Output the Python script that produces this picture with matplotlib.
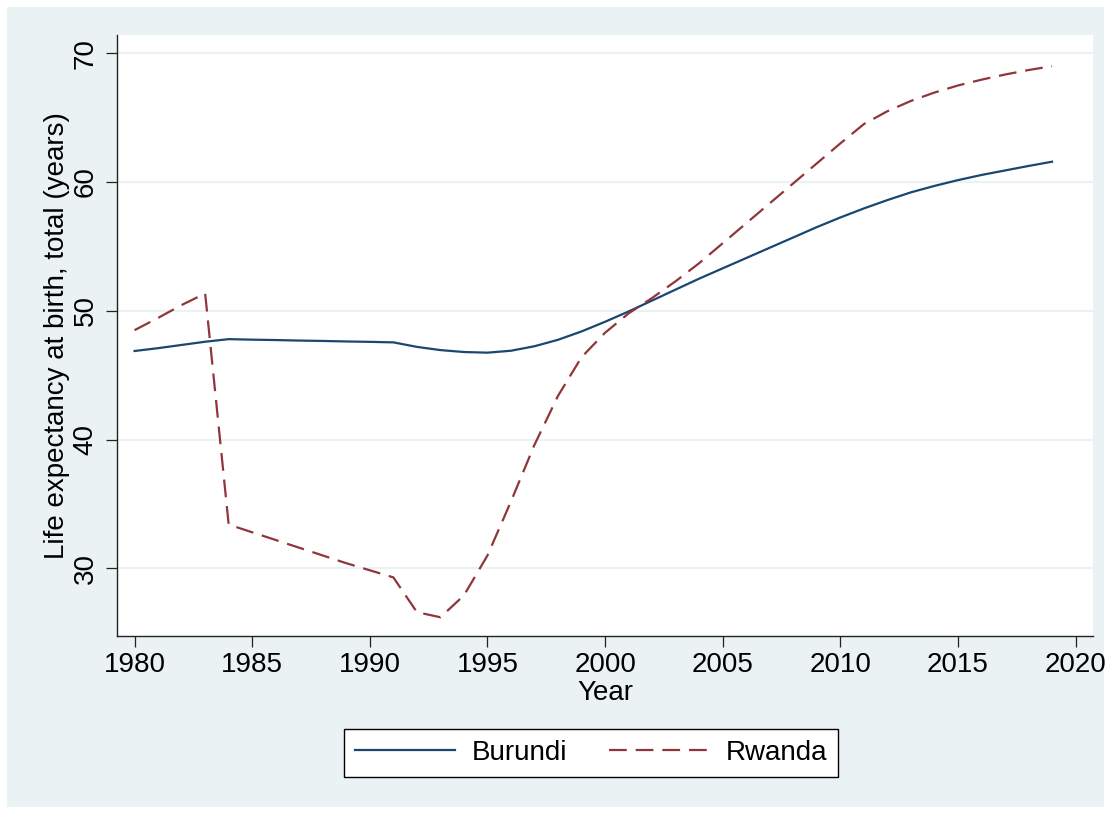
import numpy as np
import matplotlib
matplotlib.use('Agg')
import matplotlib.pyplot as plt
from matplotlib.patches import Rectangle

plt.rcParams['font.family'] = ['Liberation Sans', 'DejaVu Sans']

# Data
years = list(range(1980, 2020))
burundi = [46.88, 47.1, 47.35, 47.6, 47.8, 47.76, 47.73, 47.69, 47.66, 47.62, 47.59, 47.55,
           47.2, 46.95, 46.8, 46.75, 46.9, 47.25, 47.75, 48.4, 49.15, 49.95,
           50.8, 51.65, 52.5, 53.3, 54.1, 54.9, 55.7, 56.5, 57.25, 57.95,
           58.6, 59.2, 59.7, 60.15, 60.55, 60.9, 61.25, 61.58]
rwanda = [48.5, 49.45, 50.45, 51.35, 33.4, 32.8, 32.2, 31.6, 31.0, 30.4, 29.85, 29.3,
          26.6, 26.2, 27.9, 31.0, 35.2, 39.6, 43.4, 46.4, 48.3, 49.8,
          51.0, 52.3, 53.7, 55.25, 56.8, 58.35, 59.9, 61.45, 63.0, 64.5,
          65.5, 66.3, 66.95, 67.5, 67.95, 68.35, 68.7, 69.0]

bg = '#eaf2f3'
fs = 20

fig = plt.figure(figsize=(11.11, 8.14), dpi=100)
fig.patch.set_facecolor('white')
fig.patches.append(Rectangle((7 / 1111, 7 / 814), 1097 / 1111, 800 / 814,
                             transform=fig.transFigure, facecolor=bg,
                             edgecolor='none', zorder=-10))

ax = fig.add_axes([116.7 / 1111, 1 - 635.7 / 814, (1093 - 116.7) / 1111, (635.7 - 35) / 814])
ax.set_facecolor('white')

ax.plot(years, burundi, color='#1a476f', lw=1.6, label='Burundi')
ax.plot(years, rwanda, color='#90353b', lw=1.6, dashes=(8, 4), label='Rwanda')

ax.set_xlim(1979.24, 2020.74)
ax.set_ylim(24.77, 71.42)
ax.set_xticks(range(1980, 2021, 5))
ax.set_yticks([30, 40, 50, 60, 70])
ax.grid(axis='y', color=bg, lw=1.5)
ax.set_axisbelow(True)

for s in ['top', 'right']:
    ax.spines[s].set_visible(False)
for s in ['left', 'bottom']:
    ax.spines[s].set_linewidth(1.0)
    ax.spines[s].set_color('#222222')

ax.tick_params(axis='both', direction='out', length=8, width=0.9, labelsize=fs, color='#222222')
ax.tick_params(axis='x', pad=4)
ax.tick_params(axis='y', pad=5)
for lab in ax.get_yticklabels():
    lab.set_rotation(90)
    lab.set_va('center')

ax.set_xlabel('Year', fontsize=fs, labelpad=1)
ax.set_ylabel('Life expectancy at birth, total (years)', fontsize=fs, labelpad=2)

leg = fig.legend(loc='center', bbox_to_anchor=(591 / 1111, 1 - 753 / 814), ncol=2,
                 fontsize=fs, frameon=True, fancybox=False, handlelength=3.6,
                 handletextpad=0.6, columnspacing=1.5, borderpad=0.4, framealpha=1)
leg.get_frame().set_edgecolor('black')
leg.get_frame().set_facecolor('white')
leg.get_frame().set_linewidth(1.0)

fig.savefig('out.png', dpi=100)
